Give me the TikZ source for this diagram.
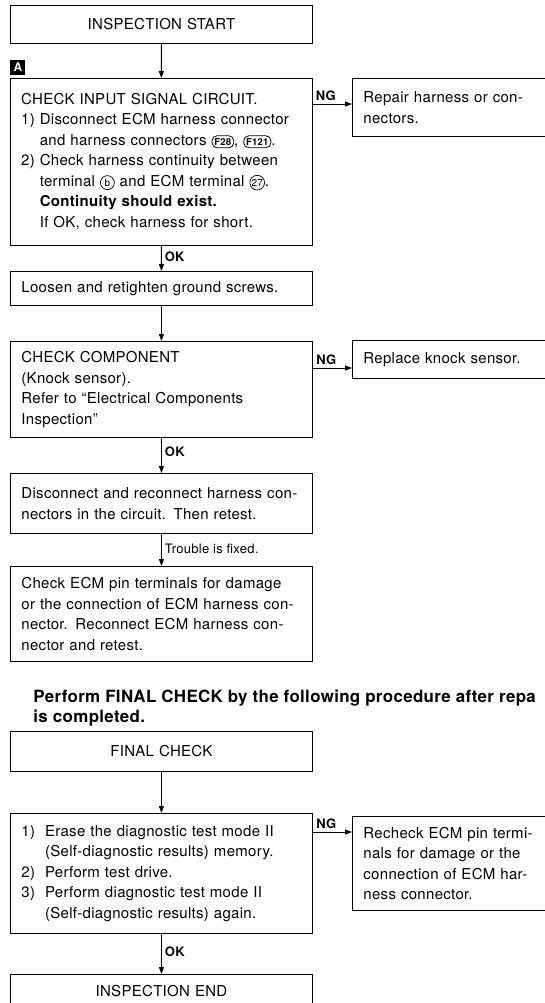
\documentclass[tikz,border=0pt]{standalone}
\usepackage{fontspec}
\setmainfont{TeX Gyre Heros}[LetterSpace=2]
\usetikzlibrary{arrows.meta,positioning}

% connector number in a rounded box, terminal number in a circle
\tikzset{inl/.style={anchor=center,minimum width=0pt,minimum height=0pt,text width=,align=center}}
\newcommand{\connbox}[1]{\tikz[baseline=(c.base)]\node[inl,draw,line width=0.8pt,rounded corners=5pt,
  inner xsep=2.5pt,inner ysep=2.5pt,font=\fontsize{9.5}{9.5}\selectfont\bfseries](c){#1};}
\newcommand{\circlbl}[1]{\tikz[baseline=(c.base)]\node[inl,draw,circle,line width=0.7pt,inner sep=0.5pt,
  minimum size=14pt,font=\fontsize{10}{10}\selectfont](c){#1};}

\begin{document}
\begin{tikzpicture}[
    x=1pt, y=-1pt, line width=0.9pt,
    >={Triangle[length=7pt,width=5pt]},
    box/.style={draw,anchor=north west,inner xsep=11pt,align=left,text width=280pt,
                font=\fontsize{15}{20.5}\selectfont},
    ttl/.style={box,align=center},
    rbox/.style={box,text width=200pt},
    lbl/.style={font=\fontsize{13}{13}\selectfont\bfseries,inner sep=3pt},
    note/.style={font=\fontsize{13}{13}\selectfont,inner sep=3pt}]

  \useasboundingbox (0,0) rectangle (545,1003);
  \clip (0,0) rectangle (545,1003);

  % ---------------- main column
  \node[ttl,minimum height=38pt] (start) at (10,5) {INSPECTION START};

  \node[box,minimum height=167pt] (sig) at (10,78)
       {CHECK INPUT SIGNAL CIRCUIT.\\
        1) Disconnect ECM harness connector\\
        \phantom{1) }and harness connectors \connbox{F28}, \connbox{F121}.\\
        2) Check harness continuity between\\
        \phantom{1) }terminal \circlbl{b} and ECM terminal \circlbl{27}.\\
        \phantom{1) }\textbf{Continuity should exist.}\\
        \phantom{1) }If OK, check harness for short.};
  \node[fill=black,text=white,font=\fontsize{12}{12}\selectfont\bfseries,inner sep=0pt,
        minimum size=15pt,anchor=south west,above right=3pt and 0pt of sig.north west] (lblA) {A};

  \node[box,minimum height=34pt] (gnd) at (10,271) {Loosen and retighten ground screws.};

  \node[box,minimum height=96pt] (comp) at (10,341)
       {CHECK COMPONENT\\
        (Knock sensor).\\
        Refer to ``Electrical Components\\
        Inspection''};

  \node[box,minimum height=60pt] (recon) at (10,473)
       {Disconnect and reconnect harness con-\\
        nectors in the circuit. Then retest.};

  \node[box,minimum height=95pt] (pins) at (10,566)
       {Check ECM pin terminals for damage\\
        or the connection of ECM harness con-\\
        nector. Reconnect ECM harness con-\\
        nector and retest.};

  \node[anchor=north west,align=left,font=\fontsize{16.9}{20}\selectfont\bfseries,inner sep=0pt]
       (perf) at (33,689)
       {Perform FINAL CHECK by the following procedure after repa\\
        is completed.};

  \node[ttl,minimum height=40pt] (fin) at (10,731) {FINAL CHECK};

  \node[box,minimum height=120pt] (diag) at (10,813)
       {1)~~Erase the diagnostic test mode II\\
        \phantom{1)~~}(Self-diagnostic results) memory.\\
        2)~~Perform test drive.\\
        3)~~Perform diagnostic test mode II\\
        \phantom{1)~~}(Self-diagnostic results) again.};

  \node[ttl,minimum height=34pt] (end) at (10,974) {INSPECTION END};

  % ---------------- right column
  \node[rbox,minimum height=58pt] (rep) at (352,78)
       {Repair harness or con-\\
        nectors.};
  \node[rbox,minimum height=38pt] (knock) at (352,340) {Replace knock sensor.};
  \node[rbox,minimum height=94pt] (rechk) at (352,816)
       {Recheck ECM pin termi-\\
        nals for damage or the\\
        connection of ECM har-\\
        ness connector.};

  % ---------------- connectors
  \draw[->] (start) -- (sig);
  \draw[->] (sig) -- node[lbl,right,pos=0.45] {OK} (gnd);
  \draw[->] (gnd) -- (comp);
  \draw[->] (comp) -- node[lbl,right,pos=0.4] {OK} (recon);
  \draw[->] (recon) -- node[note,right,pos=0.45] {Trouble is fixed.} (pins);
  \draw[->] (fin) -- (diag);
  \draw[->] (diag) -- node[lbl,right,pos=0.45] {OK} (end);

  \coordinate (ng1) at (0,104);
  \coordinate (ng2) at (0,368);
  \coordinate (ng3) at (0,832);
  \draw[->] (sig.east |- ng1) -- node[lbl,pos=0,anchor=south west] {NG} (rep.west |- ng1);
  \draw[->] (comp.east |- ng2) -- node[lbl,pos=0,anchor=south west] {NG} (knock.west |- ng2);
  \draw[->] (diag.east |- ng3) -- node[lbl,pos=0,anchor=south west] {NG} (rechk.west |- ng3);
\end{tikzpicture}
\end{document}
